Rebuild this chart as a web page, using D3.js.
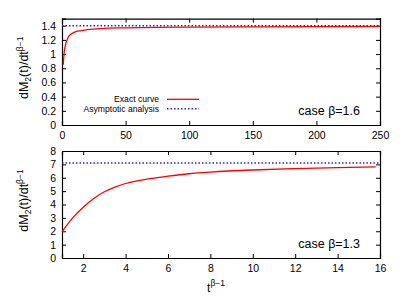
<!DOCTYPE html>
<html>
<head>
<meta charset="utf-8">
<script src="https://cdn.jsdelivr.net/npm/d3@7"></script>
<style>
  body { margin: 0; background: #fff; }
  text { font-family: "Liberation Sans", Arial, sans-serif; fill: #000; }
</style>
</head>
<body>
<script>
// case beta = 1.6 (top panel)
const topT = [1, 1.5, 2, 3, 4, 5, 7, 10, 15, 20, 30, 50, 75, 100, 150, 200, 250];
const topExact = [0.85, 0.98, 1.06, 1.15, 1.2, 1.24, 1.28, 1.31, 1.33, 1.345, 1.36, 1.37, 1.377, 1.38, 1.384, 1.387, 1.389];
const topAsym = 1.4;
const topXTicks = [0, 50, 100, 150, 200, 250];
const topYTicks = [0, 0.2, 0.4, 0.6, 0.8, 1, 1.2, 1.4];

// case beta = 1.3 (bottom panel)
const botT = [1, 1.5, 2, 2.5, 3, 3.5, 4, 5, 6, 7, 8, 10, 12, 14, 15.8];
const botExact = [1.95, 3.0, 3.8, 4.45, 4.95, 5.3, 5.57, 5.9, 6.12, 6.3, 6.42, 6.58, 6.68, 6.76, 6.82];
const botAsym = 7.1;
const botXTicks = [2, 4, 6, 8, 10, 12, 14, 16];
const botYTicks = [0, 1, 2, 3, 4, 5, 6, 7, 8];

(function() {
  const svg = d3.select('body').append('svg')
    .attr('width', 415)
    .attr('height', 297);

  const left = 62, right = 380;

  // draw one panel
  function drawPanel(cfg) {
    const x = d3.scaleLinear().domain(cfg.xDomain).range([left, right]);
    const y = d3.scaleLinear().domain(cfg.yDomain).range([cfg.bottom, cfg.top]);
    const g = svg.append('g');

    // ticks inward on all sides
    g.append('g').attr('transform', `translate(0,${cfg.bottom})`)
      .call(d3.axisBottom(x).tickValues(cfg.xTicks).tickSize(-4).tickPadding(7)
        .tickFormat(d3.format('d')));
    g.append('g').attr('transform', `translate(0,${cfg.top})`)
      .call(d3.axisTop(x).tickValues(cfg.xTicks).tickSize(-4).tickFormat(''));
    g.append('g').attr('transform', `translate(${left},0)`)
      .call(d3.axisLeft(y).tickValues(cfg.yTicks).tickSize(-4).tickPadding(6)
        .tickFormat(d => d3.format('~g')(d)));
    g.append('g').attr('transform', `translate(${right},0)`)
      .call(d3.axisRight(y).tickValues(cfg.yTicks).tickSize(-4).tickFormat(''));

    g.selectAll('.domain').attr('stroke', '#000').attr('stroke-width', 1.2);
    g.selectAll('.tick line').attr('stroke', '#000').attr('stroke-width', 1);
    g.selectAll('.tick text').style('font-size', '10.5px')
      .style('font-family', '"Liberation Sans", Arial, sans-serif');

    // asymptote
    g.append('line')
      .attr('x1', x(cfg.xDomain[0])).attr('x2', x(cfg.xDomain[1]))
      .attr('y1', y(cfg.asym)).attr('y2', y(cfg.asym))
      .attr('stroke', '#2222ee').attr('stroke-width', 1.5)
      .attr('stroke-dasharray', '1.5,2');

    // exact curve
    const line = d3.line().x(d => x(d[0])).y(d => y(d[1])).curve(d3.curveMonotoneX);
    g.append('path')
      .datum(cfg.t.map((t, i) => [t, cfg.vals[i]]))
      .attr('d', line)
      .attr('fill', 'none')
      .attr('stroke', '#ff0000')
      .attr('stroke-width', 1.3);

    // case label
    g.append('text')
      .attr('x', 360).attr('y', cfg.bottom - 10)
      .attr('text-anchor', 'end')
      .style('font-size', '12.5px')
      .text(cfg.label);

    // y axis label
    const lbl = g.append('text')
      .attr('transform', `translate(28,${(cfg.top + cfg.bottom) / 2 - 4})rotate(-90)`)
      .attr('text-anchor', 'middle')
      .style('font-size', '12.5px');
    lbl.append('tspan').text('dM');
    lbl.append('tspan').attr('dy', 3).style('font-size', '8.5px').text('2');
    lbl.append('tspan').attr('dy', -3).text('(t)/dt');
    lbl.append('tspan').attr('dy', -5).style('font-size', '8.5px').text('β−1');

    return {x: x, y: y};
  }

  drawPanel({
    xDomain: [0, 250], yDomain: [0, 1.5], top: 18.6, bottom: 125,
    xTicks: topXTicks, yTicks: topYTicks,
    t: topT, vals: topExact, asym: topAsym, label: 'case β=1.6'
  });

  drawPanel({
    xDomain: [1, 16], yDomain: [0, 8], top: 151, bottom: 258,
    xTicks: botXTicks, yTicks: botYTicks,
    t: botT, vals: botExact, asym: botAsym, label: 'case β=1.3'
  });

  // legend (top panel)
  svg.append('text').attr('x', 159).attr('y', 101.5)
    .attr('text-anchor', 'end').style('font-size', '8.6px').text('Exact curve');
  svg.append('line').attr('x1', 167).attr('x2', 199).attr('y1', 99.3).attr('y2', 99.3)
    .attr('stroke', '#ff0000').attr('stroke-width', 1.3);
  svg.append('text').attr('x', 159).attr('y', 111.5)
    .attr('text-anchor', 'end').style('font-size', '8.6px').text('Asymptotic analysis');
  svg.append('line').attr('x1', 167).attr('x2', 199).attr('y1', 108.8).attr('y2', 108.8)
    .attr('stroke', '#2222ee').attr('stroke-width', 1.5).attr('stroke-dasharray', '1.5,2');

  // x axis label
  const xl = svg.append('text').attr('x', 216).attr('y', 292)
    .attr('text-anchor', 'middle').style('font-size', '12px');
  xl.append('tspan').text('t');
  xl.append('tspan').attr('dy', -6).style('font-size', '8.5px').text('β−1');
})();
</script>
</body>
</html>
